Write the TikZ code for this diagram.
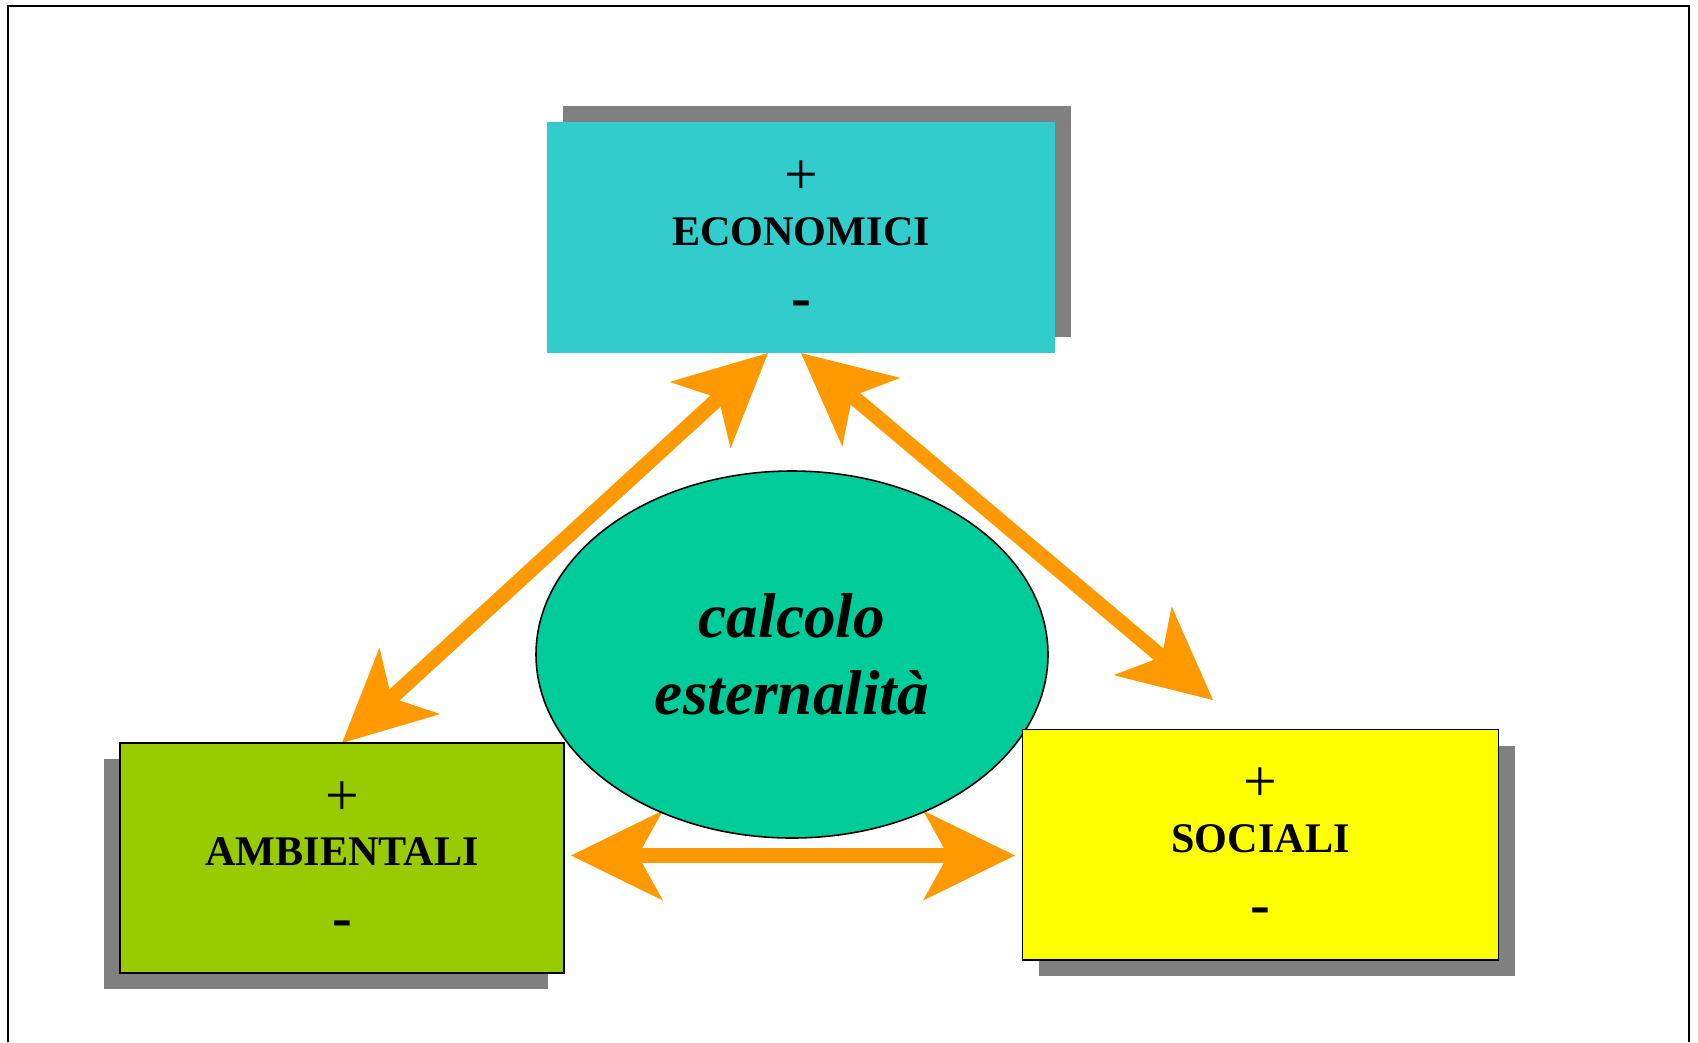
\documentclass[tikz,border=0pt]{standalone}
\usepackage{fontspec}
\setmainfont{Liberation Serif}
\usetikzlibrary{arrows.meta,shapes.geometric,shadows,backgrounds}
\definecolor{ciano}{HTML}{33CCCC}
\definecolor{verdechiaro}{HTML}{99CC00}
\definecolor{giallo}{HTML}{FFFF00}
\definecolor{verdeacqua}{HTML}{00CC99}
\definecolor{arancio}{HTML}{FF9900}
\definecolor{ombra}{HTML}{808080}
\begin{document}
\begin{tikzpicture}[>={Stealth[length=9.2mm,width=9mm,inset=2.5mm,line width=0pt]},
    scatola/.style={rectangle,inner sep=0pt,outer sep=0pt,line width=0.45pt},
    piu/.style={anchor=base,inner sep=0pt,font=\fontsize{17}{20}\selectfont},
    meno/.style={anchor=base,inner sep=0pt,font=\bfseries\fontsize{17}{20}\selectfont},
    nome/.style={anchor=base,inner sep=0pt,font=\bfseries\fontsize{12}{14}\selectfont},
    freccia/.style={arancio,line width=1.5mm}]

      \useasboundingbox (0,0) rectangle (16.98,-10.42);
      \draw[line width=0.5pt] (0.083,-10.42) |- (16.887,-0.063) -- (16.887,-10.42);

      \path (7.92,-6.545) node [ellipse,draw,fill=verdeacqua,line width=0.45pt,minimum width=5.12cm,minimum height=3.67cm,inner sep=0pt,align=center,font=\bfseries\itshape\fontsize{18}{21.8}\selectfont](calcolo){calcolo\\esternalità};

      \path (8.01,-2.375) node [scatola,fill=ciano,minimum width=5.08cm,minimum height=2.31cm,drop shadow={shadow xshift=1.6mm,shadow yshift=1.6mm,fill=ombra,opacity=1}](econ){};
      \path (3.42,-8.58) node [scatola,draw,fill=verdechiaro,minimum width=4.44cm,minimum height=2.3cm,drop shadow={shadow xshift=-1.6mm,shadow yshift=-1.6mm,fill=ombra,opacity=1}](amb){};
      \path (12.605,-8.4475) node [scatola,draw,fill=giallo,minimum width=4.76cm,minimum height=2.305cm,drop shadow={shadow xshift=1.6mm,shadow yshift=-1.6mm,fill=ombra,opacity=1}](soc){};

      \path ([yshift=4.3mm]econ.center) node [piu](econ-piu){+};
      \path ([yshift=-0.75mm]econ.center) node [nome](econ-nome){ECONOMICI};
      \path ([yshift=-7.95mm]econ.center) node [meno](econ-meno){-};
      \path ([yshift=4.3mm]amb.center) node [piu](amb-piu){+};
      \path ([yshift=-0.75mm]amb.center) node [nome](amb-nome){AMBIENTALI};
      \path ([yshift=-7.95mm]amb.center) node [meno](amb-meno){-};
      \path ([yshift=4.3mm]soc.center) node [piu](soc-piu){+};
      \path ([yshift=-0.75mm]soc.center) node [nome](soc-nome){SOCIALI};
      \path ([yshift=-7.95mm]soc.center) node [meno](soc-meno){-};

      \coordinate (soc-punta) at (12.13,-7.0);
      \coordinate (oriz-sx) at (5.71,-8.555);
      \coordinate (oriz-dx) at (10.15,-8.555);

      \begin{pgfonlayer}{background}
      \draw[freccia,<->] ([xshift=-3.3mm]econ.south) -- (amb.north);
      \draw[freccia,<->] (econ.south) -- (soc-punta);
      \draw[freccia,<->] (oriz-sx) -- (oriz-dx);
      \end{pgfonlayer}

    \end{tikzpicture}
\end{document}
